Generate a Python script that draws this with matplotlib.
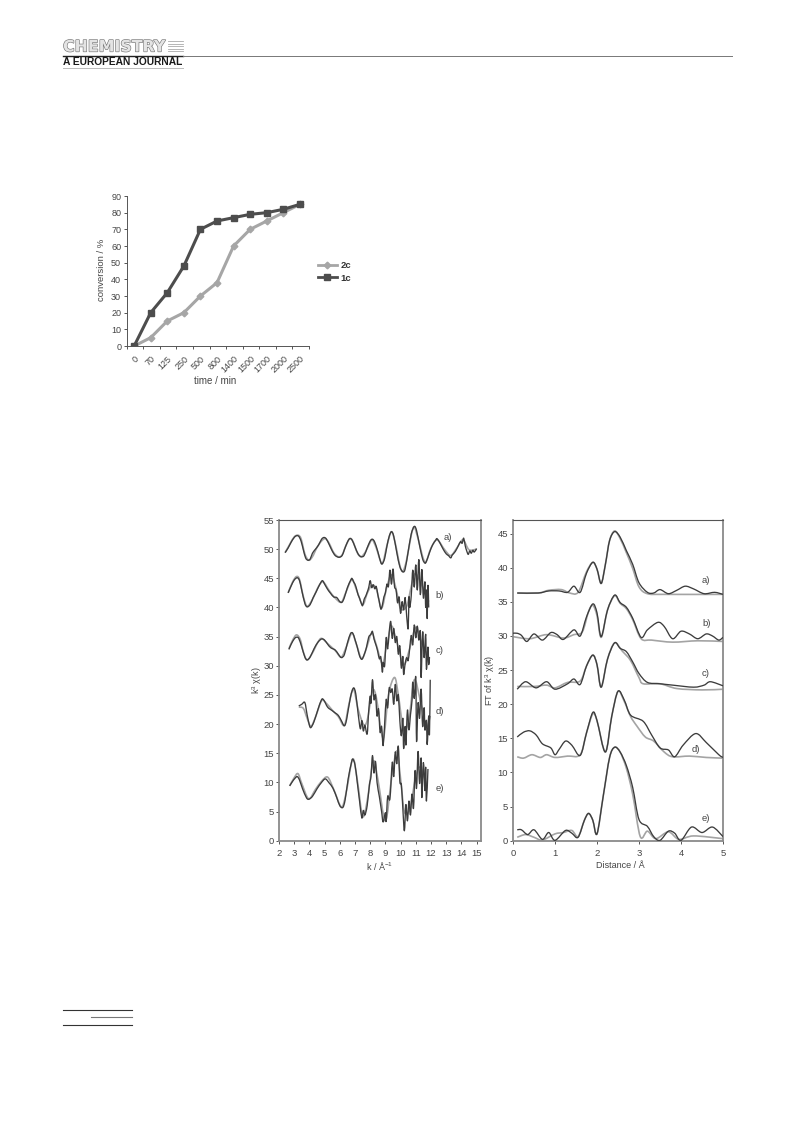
import matplotlib
matplotlib.use("Agg")
import matplotlib.pyplot as plt
import matplotlib.patheffects as pe
from matplotlib.lines import Line2D
from matplotlib.path import Path
from matplotlib.patches import PathPatch
from matplotlib.transforms import ScaledTranslation

plt.rcParams['font.family'] = ['Liberation Sans', 'DejaVu Sans']
plt.rcParams['mathtext.fontset'] = 'custom'
plt.rcParams['mathtext.rm'] = 'Liberation Sans'
plt.rcParams['mathtext.default'] = 'rm'

W, H = 793, 1123
times = ['0', '70', '125', '250', '500', '800', '1400', '1500', '1700', '2000', '2500']
conv_2c = [0, 5, 15, 20, 30, 38, 60, 70, 75, 80, 85]
conv_1c = [0, 20, 32, 48, 70, 75, 77, 79, 80, 82, 85]

exp_a = [(2.4,49.4),(2.6,50.2),(2.8,51.2),(3.0,52.0),(3.15,52.3),(3.3,52.2),(3.45,51.4),(3.6,49.9),(3.75,48.5),(3.9,48.1),(4.05,48.3),(4.2,49.3),(4.4,50.0),(4.6,50.7),(4.8,51.7),(4.95,52.0),(5.1,51.8),(5.3,50.8),(5.5,49.7),(5.7,48.9),(5.95,48.6),(6.15,48.9),(6.3,49.9),(6.5,51.2),(6.65,51.8),(6.8,51.6),(7.0,50.4),(7.2,49.2),(7.4,48.7),(7.6,48.9),(7.8,50.2),(8.0,51.4),(8.15,51.7),(8.3,51.2),(8.5,49.6),(8.7,47.7),(8.8,47.5),(8.95,48.4),(9.1,50.5),(9.25,52.2),(9.4,53.0),(9.55,52.2),(9.75,49.4),(9.95,47.0),(10.15,46.1),(10.3,46.6),(10.5,49.6),(10.7,52.6),(10.9,53.9),(11.05,53.2),(11.25,50.6),(11.45,48.3),(11.6,47.6),(11.7,47.9),(11.9,49.4),(12.1,50.7),(12.3,51.5),(12.4,51.8),(12.6,51.0),(12.8,50.0),(13.0,49.2),(13.15,48.9),(13.3,48.5),(13.4,49.0),(13.6,49.6),(13.8,50.6),(13.95,51.3),(14.05,51.0),(14.15,51.9),(14.25,50.6),(14.35,49.7),(14.45,49.1),(14.55,49.7),(14.65,49.3),(14.75,49.8),(14.85,49.5),(15.0,50.1)]
fit_a = [(2.4,49.4),(2.7,50.8),(3.0,52.1),(3.25,52.4),(3.45,51.8),(3.7,49.2),(3.95,48.1),(4.2,48.7),(4.5,50.3),(4.8,51.4),(5.05,51.8),(5.3,51.0),(5.6,49.4),(5.9,48.7),(6.15,49.0),(6.4,50.6),(6.65,51.8),(6.85,51.4),(7.15,49.4),(7.4,48.7),(7.7,49.6),(8.0,51.2),(8.15,51.6),(8.4,50.2),(8.7,47.8),(8.85,47.8),(9.1,50.6),(9.4,53.0),(9.65,51.0),(9.95,47.2),(10.15,46.2),(10.4,48.2),(10.7,52.4),(10.9,53.8),(11.15,51.8),(11.6,47.8),(12.0,50.2),(12.4,51.6),(12.9,49.9),(13.3,48.9),(13.7,50.2),(14.1,51.6),(14.5,49.9),(15.0,50.0)]

exp_b = [(2.6,42.5),(2.8,43.7),(3.0,44.7),(3.2,45.1),(3.35,44.6),(3.5,42.9),(3.7,40.7),(3.85,40.1),(4.05,40.5),(4.25,41.7),(4.45,42.7),(4.65,43.8),(4.85,44.6),(5.0,44.0),(5.2,43.1),(5.4,42.4),(5.6,41.8),(5.8,41.7),(6.0,41.0),(6.15,40.9),(6.3,41.7),(6.5,43.4),(6.7,44.6),(6.8,45.0),(6.9,44.4),(7.0,44.0),(7.1,43.2),(7.2,42.2),(7.3,41.6),(7.4,40.8),(7.5,40.3),(7.6,41.4),(7.7,41.9),(7.8,42.6),(7.9,43.4),(8.0,44.6),(8.1,43.4),(8.2,43.9),(8.3,43.2),(8.4,43.6),(8.5,42.2),(8.6,41.0),(8.7,39.7),(8.8,40.4),(8.9,41.8),(9.0,42.5),(9.1,44.0),(9.2,43.6),(9.3,46.4),(9.4,44.0),(9.5,46.6),(9.6,43.6),(9.7,43.0),(9.8,40.8),(9.9,41.8),(10.0,39.0),(10.1,41.0),(10.2,39.6),(10.3,41.7),(10.4,38.5),(10.5,36.4),(10.55,41.8),(10.6,40.0),(10.7,42.0),(10.8,46.4),(10.9,43.5),(11.0,47.3),(11.1,43.0),(11.2,48.2),(11.3,42.2),(11.4,46.5),(11.5,41.6),(11.6,44.4),(11.65,40.0),(11.7,43.0),(11.75,38.1),(11.8,43.8),(11.85,40.0)]
fit_b = [(2.6,42.5),(2.9,44.4),(3.15,45.3),(3.35,44.8),(3.6,41.9),(3.85,40.2),(4.2,41.4),(4.6,43.6),(4.9,44.4),(5.3,42.9),(5.7,41.6),(6.1,40.9),(6.4,42.6),(6.8,44.8),(7.1,43.0),(7.5,40.5),(7.8,42.4),(8.1,43.8),(8.4,43.2),(8.75,39.9),(9.1,43.6),(9.4,45.6),(9.7,43.2),(10.0,39.8),(10.4,40.2),(10.7,43.6),(10.95,45.8),(11.3,44.4),(11.85,41.0)]

exp_c = [(2.65,32.8),(2.8,33.7),(3.0,34.6),(3.15,34.9),(3.3,34.7),(3.5,33.2),(3.7,31.5),(3.85,31.0),(4.05,31.5),(4.3,32.9),(4.55,34.0),(4.8,34.6),(5.0,34.4),(5.2,33.7),(5.4,33.1),(5.7,32.7),(5.9,32.0),(6.1,31.4),(6.3,31.9),(6.5,33.9),(6.7,35.5),(6.85,35.6),(7.0,34.5),(7.15,33.2),(7.3,31.7),(7.45,31.1),(7.6,31.9),(7.75,33.1),(7.9,34.9),(8.05,35.4),(8.15,35.9),(8.25,34.6),(8.4,33.4),(8.5,32.4),(8.6,31.2),(8.7,31.5),(8.8,28.9),(8.85,30.6),(8.95,30.0),(9.05,34.8),(9.15,32.9),(9.25,35.8),(9.35,37.6),(9.45,34.7),(9.55,36.4),(9.65,34.0),(9.75,35.0),(9.85,32.0),(9.95,33.4),(10.05,29.6),(10.15,31.6),(10.2,28.5),(10.3,30.4),(10.4,31.4),(10.5,30.9),(10.6,33.0),(10.7,35.2),(10.8,33.6),(10.9,37.0),(11.0,34.8),(11.1,36.8),(11.2,34.4),(11.3,35.8),(11.35,28.0),(11.45,35.8),(11.55,31.4),(11.65,35.4),(11.7,29.4),(11.8,33.2),(11.85,30.2),(11.9,31.5)]
fit_c = [(2.65,32.9),(2.9,34.4),(3.15,35.3),(3.4,34.5),(3.6,32.4),(3.85,31.0),(4.2,32.2),(4.55,34.0),(4.8,34.7),(5.2,33.8),(5.7,32.6),(6.1,31.5),(6.45,33.4),(6.8,35.6),(7.1,33.6),(7.45,31.2),(7.8,33.4),(8.1,35.6),(8.4,33.6),(8.8,30.4),(9.1,33.6),(9.4,36.8),(9.7,34.6),(10.2,30.2),(10.6,33.0),(11.0,36.6),(11.4,33.8),(11.9,31.2)]

exp_d = [(3.3,23.1),(3.5,23.4),(3.7,23.7),(3.85,21.6),(4.0,19.8),(4.1,19.4),(4.3,20.4),(4.55,22.4),(4.8,24.2),(4.95,24.1),(5.2,22.9),(5.5,22.3),(5.7,21.9),(5.9,21.5),(6.1,20.6),(6.3,19.7),(6.45,20.8),(6.7,24.6),(6.9,26.2),(7.05,25.2),(7.2,21.9),(7.35,19.2),(7.45,20.6),(7.55,18.8),(7.65,19.8),(7.8,18.3),(7.9,22.2),(8.0,24.8),(8.05,23.6),(8.15,27.6),(8.25,24.2),(8.35,25.0),(8.45,21.4),(8.55,22.6),(8.65,18.6),(8.75,19.6),(8.85,16.3),(8.95,20.0),(9.05,24.2),(9.15,22.8),(9.25,26.2),(9.35,25.4),(9.45,26.0),(9.55,23.4),(9.65,26.8),(9.75,24.0),(9.85,25.0),(9.95,20.6),(10.05,18.0),(10.15,21.0),(10.2,15.8),(10.3,19.6),(10.35,16.4),(10.45,22.4),(10.55,19.0),(10.65,21.6),(10.75,24.0),(10.8,27.2),(10.9,24.4),(11.0,28.0),(11.05,17.0),(11.15,23.6),(11.25,21.0),(11.35,26.0),(11.45,19.6),(11.55,22.8),(11.6,19.0),(11.7,20.6),(11.75,16.5),(11.85,21.4),(11.9,18.2),(11.95,27.6)]
fit_d = [(3.3,22.9),(3.6,22.7),(3.85,21.0),(4.1,19.6),(4.4,21.2),(4.8,24.0),(5.1,23.6),(5.5,22.4),(5.9,21.3),(6.3,19.8),(6.6,23.4),(6.9,26.0),(7.2,22.6),(7.55,20.0),(7.8,20.6),(8.15,25.6),(8.4,24.6),(8.85,17.6),(9.2,25.0),(9.6,28.0),(9.85,25.0),(10.2,19.0),(10.55,20.8),(10.9,27.6),(11.3,24.0),(11.7,19.6),(11.95,21.4)]

exp_e = [(2.7,9.4),(2.9,10.2),(3.05,10.7),(3.2,11.0),(3.35,10.4),(3.55,8.9),(3.8,7.4),(3.95,7.1),(4.2,7.6),(4.5,8.9),(4.8,10.0),(5.05,10.6),(5.3,9.9),(5.55,9.0),(5.8,7.4),(6.0,6.0),(6.2,5.7),(6.35,7.0),(6.55,10.6),(6.75,13.2),(6.85,14.0),(7.0,13.0),(7.15,10.0),(7.3,6.8),(7.45,3.9),(7.55,5.2),(7.65,4.4),(7.8,6.0),(7.95,9.6),(8.05,11.0),(8.15,14.6),(8.25,11.6),(8.35,13.6),(8.45,10.0),(8.6,7.6),(8.75,5.0),(8.85,3.2),(9.0,4.8),(9.05,3.3),(9.15,7.6),(9.3,7.2),(9.45,13.4),(9.55,11.0),(9.65,15.2),(9.75,13.2),(9.85,16.2),(9.95,10.2),(10.05,9.6),(10.15,5.4),(10.25,1.7),(10.35,6.2),(10.45,3.4),(10.55,6.8),(10.65,4.4),(10.75,8.0),(10.85,5.6),(10.95,12.0),(11.05,9.0),(11.15,15.3),(11.25,9.8),(11.35,14.2),(11.4,7.4),(11.5,13.4),(11.6,8.6),(11.65,12.6),(11.7,6.8),(11.8,12.3)]
fit_e = [(2.7,9.4),(3.0,10.8),(3.25,11.5),(3.5,9.8),(3.95,7.2),(4.4,8.8),(4.8,10.2),(5.2,10.9),(5.6,8.8),(6.1,5.8),(6.4,8.0),(6.85,14.0),(7.15,10.4),(7.5,4.2),(7.8,6.8),(8.2,13.6),(8.5,10.6),(9.0,3.4),(9.4,10.6),(9.75,15.4),(10.0,10.6),(10.25,5.0),(10.6,5.4),(11.0,11.0),(11.3,12.6),(11.7,9.6)]

dist_a = [(0.1,36.3),(0.6,36.3),(0.85,36.6),(1.1,36.6),(1.3,36.4),(1.45,37.3),(1.6,36.4),(1.75,39.2),(1.9,40.8),(2.0,39.8),(2.1,37.7),(2.2,40.5),(2.3,44.0),(2.42,45.3),(2.55,44.5),(2.7,42.5),(2.85,40.5),(3.0,37.8),(3.2,36.4),(3.35,36.3),(3.5,36.8),(3.7,36.2),(3.9,36.7),(4.1,37.3),(4.3,36.9),(4.55,36.2),(4.8,36.4),(5.0,36.1)]
fit_dist_a = [(0.1,36.3),(0.6,36.3),(0.85,36.7),(1.15,36.8),(1.35,36.3),(1.55,36.4),(1.75,39.4),(1.9,40.8),(2.0,39.8),(2.1,37.7),(2.2,40.5),(2.3,44.0),(2.42,45.4),(2.55,44.3),(2.7,42.2),(2.85,39.9),(3.0,37.2),(3.2,36.2),(3.6,36.1),(5.0,36.1)]
dist_b = [(0.0,30.4),(0.1,30.4),(0.2,30.1),(0.33,29.2),(0.5,30.3),(0.7,29.4),(0.9,30.5),(1.05,30.2),(1.2,29.5),(1.45,30.9),(1.6,30.0),(1.75,32.8),(1.9,34.7),(2.0,33.4),(2.1,29.9),(2.25,33.8),(2.42,36.0),(2.55,34.9),(2.7,34.2),(2.85,32.6),(3.05,29.8),(3.2,30.9),(3.45,32.0),(3.6,31.4),(3.8,29.6),(4.0,30.7),(4.2,30.3),(4.4,29.6),(4.6,30.3),(4.75,30.0),(4.9,29.4),(5.0,29.8)]
fit_dist_b = [(0.0,29.9),(0.4,29.6),(0.8,30.2),(1.2,29.7),(1.45,30.2),(1.65,30.6),(1.8,33.6),(1.9,34.5),(2.0,33.0),(2.1,29.8),(2.25,33.8),(2.42,35.9),(2.55,34.8),(2.7,34.0),(2.85,32.4),(3.05,29.6),(3.3,29.4),(3.8,29.1),(4.4,29.3),(5.0,29.2)]
dist_c = [(0.1,22.2),(0.3,23.3),(0.55,22.4),(0.8,23.3),(1.0,22.2),(1.3,23.0),(1.45,23.7),(1.6,22.9),(1.75,25.6),(1.9,27.2),(2.0,25.8),(2.1,22.5),(2.25,26.6),(2.42,29.0),(2.55,28.2),(2.7,27.7),(2.85,26.2),(3.0,24.5),(3.2,23.2),(3.5,23.0),(3.8,22.8),(4.3,22.5),(4.55,22.8),(4.7,23.3),(5.0,22.7)]
fit_dist_c = [(0.1,22.6),(0.5,22.6),(0.8,22.8),(1.0,22.4),(1.3,23.2),(1.6,23.4),(1.75,25.6),(1.9,27.2),(2.0,25.8),(2.1,22.5),(2.25,26.6),(2.42,29.0),(2.6,27.8),(2.8,26.4),(3.0,23.9),(3.1,23.0),(3.5,23.0),(3.9,22.3),(4.5,22.1),(5.0,22.2)]
dist_d = [(0.1,15.2),(0.25,15.9),(0.4,16.1),(0.55,15.5),(0.7,14.2),(0.9,13.6),(1.0,12.6),(1.1,13.4),(1.25,14.6),(1.4,14.0),(1.6,12.5),(1.75,15.8),(1.9,18.8),(2.0,17.6),(2.2,13.0),(2.35,18.2),(2.5,21.9),(2.65,20.6),(2.8,18.4),(3.1,17.5),(3.3,15.5),(3.5,13.6),(3.7,13.3),(3.85,12.3),(4.05,14.0),(4.35,15.7),(4.6,14.4),(4.9,12.6),(5.0,12.2)]
fit_dist_d = [(0.1,12.3),(0.25,12.1),(0.45,12.6),(0.65,12.2),(0.8,12.6),(1.0,12.2),(1.3,12.4),(1.6,12.6),(1.75,15.8),(1.9,18.6),(2.0,17.6),(2.2,13.0),(2.35,18.2),(2.5,21.9),(2.65,20.4),(2.8,18.2),(2.95,16.8),(3.15,15.2),(3.35,14.6),(3.6,13.0),(3.8,12.3),(4.2,12.4),(4.6,12.2),(5.0,12.1)]
dist_e = [(0.1,1.6),(0.2,1.6),(0.35,0.9),(0.5,1.6),(0.7,0.2),(0.85,1.2),(1.0,0.05),(1.25,1.5),(1.4,1.1),(1.55,0.5),(1.7,3.0),(1.8,4.0),(1.9,3.0),(2.0,1.0),(2.15,6.6),(2.3,12.2),(2.42,13.7),(2.55,13.0),(2.7,11.0),(2.85,7.8),(3.0,3.1),(3.2,2.1),(3.35,0.6),(3.5,0.05),(3.7,1.4),(3.85,1.1),(4.0,0.05),(4.25,2.0),(4.5,1.2),(4.75,2.0),(5.0,0.6)]
fit_dist_e = [(0.1,0.5),(0.3,0.9),(0.5,0.5),(0.7,0.1),(1.0,1.0),(1.2,1.2),(1.4,1.5),(1.55,0.6),(1.7,3.0),(1.8,4.0),(1.9,3.0),(2.0,1.0),(2.15,6.6),(2.3,12.2),(2.42,13.7),(2.55,13.0),(2.7,10.6),(2.85,6.8),(3.03,0.6),(3.2,1.4),(3.4,0.3),(3.7,1.3),(3.95,0.2),(4.3,0.7),(5.0,0.3)]

series_left = [exp_a, fit_a, exp_b, fit_b, exp_c, fit_c, exp_d, fit_d, exp_e, fit_e]
series_right = [dist_a, fit_dist_a, dist_b, fit_dist_b, dist_c, fit_dist_c, dist_d, fit_dist_d, dist_e, fit_dist_e]
panel_labels = ['a)', 'b)', 'c)', 'd)', 'e)']
left_label_k = [12.8, 12.3, 12.3, 12.3, 12.3]
left_label_y = [52.0, 42.1, 32.6, 22.1, 9.0]
right_label_r = [4.5, 4.5, 4.5, 4.26, 4.5]
right_label_y = [38.1, 31.8, 24.5, 13.4, 3.2]


def box(x0, y0, x1, y1):
    return [x0 / W, 1 - y1 / H, (x1 - x0) / W, (y1 - y0) / H]


fig = plt.figure(figsize=(W / 100, H / 100), dpi=100, facecolor='white')
TXT = '#444444'

# top chart
ax1 = fig.add_axes(box(126.7, 196, 309, 346))
ax1.plot(range(11), conv_2c, color='#a6a6a6', lw=2.2, marker='D', ms=3.4, label='2c')
ax1.plot(range(11), conv_1c, color='#4d4d4d', lw=2.2, marker='s', ms=4.8, label='1c')
ax1.set_xlim(-0.45, 10.55)
ax1.set_ylim(0, 90)
ax1.set_yticks(range(0, 91, 10))
ax1.set_xticks([i - 0.45 for i in range(12)])
ax1.set_xticklabels([])
ax1.set_xticks(range(11), minor=True)
ax1.set_xticklabels(times, minor=True, rotation=45, ha='right', rotation_mode='anchor', fontsize=6.5, color=TXT)
shift = ScaledTranslation(-4.5 / 100, 0, fig.dpi_scale_trans)
for lab in ax1.get_xticklabels(minor=True):
    lab.set_transform(lab.get_transform() + shift)
ax1.tick_params(axis='x', which='minor', length=0, pad=6)
ax1.tick_params(axis='x', which='major', length=2.5, width=0.7, color='#555555')
ax1.tick_params(axis='y', length=2.5, width=0.7, color='#555555', labelsize=6.5, labelcolor=TXT, pad=1.5)
for s in ('top', 'right'):
    ax1.spines[s].set_visible(False)
for s in ('left', 'bottom'):
    ax1.spines[s].set_color('#555555')
    ax1.spines[s].set_linewidth(0.7)
fig.text(215 / W, 1 - 380.5 / H, 'time / min', ha='center', va='center', fontsize=7, color=TXT)
fig.text(102 / W, 1 - 270 / H, 'conversion / %', ha='center', va='center', rotation=90, fontsize=6.8, color=TXT)
leg = ax1.legend(handles=[Line2D([], [], color='#a6a6a6', lw=2, marker='D', ms=3.4),
                          Line2D([], [], color='#4d4d4d', lw=2, marker='s', ms=4.8)],
                 labels=['2c', '1c'], loc='center left', bbox_to_anchor=(309.5 / W, 1 - 272 / H),
                 bbox_transform=fig.transFigure, frameon=False, handlelength=2.0, handletextpad=0.4,
                 labelspacing=0.35, prop={'size': 6.8, 'weight': 'bold'})
for t in leg.get_texts():
    t.set_color('#333333')


def smooth_path(pts, tension=0.16):
    """Bezier path through the read points, so that the curve passes through each of them."""
    verts = [pts[0]]
    codes = [Path.MOVETO]
    n = len(pts)
    for i in range(n - 1):
        p0 = pts[max(i - 1, 0)]
        p1 = pts[i]
        p2 = pts[i + 1]
        p3 = pts[min(i + 2, n - 1)]
        c1 = (p1[0] + (p2[0] - p0[0]) * tension, p1[1] + (p2[1] - p0[1]) * tension)
        c2 = (p2[0] - (p3[0] - p1[0]) * tension, p2[1] - (p3[1] - p1[1]) * tension)
        verts += [c1, c2, p2]
        codes += [Path.CURVE4, Path.CURVE4, Path.CURVE4]
    return Path(verts, codes)


def draw(ax, items):
    for i, pts in enumerate(items):
        if i % 2 == 0:
            color, lw, z = '#3c3c3c', 0.95, 3
        else:
            color, lw, z = '#a4a4a4', 1.2, 2
        ax.add_patch(PathPatch(smooth_path(pts), fill=False, edgecolor=color, lw=lw, zorder=z, joinstyle='round'))


def frame(ax):
    for s, c, w in (('left', '#8a8a8a', 1.3), ('bottom', '#8a8a8a', 1.3), ('right', '#8a8a8a', 1.3), ('top', '#555555', 0.8)):
        ax.spines[s].set_color(c)
        ax.spines[s].set_linewidth(w)
    ax.tick_params(length=2.5, width=0.7, color='#555555', labelsize=6.8, labelcolor=TXT)
    ax.tick_params(axis='x', pad=3.5)
    ax.tick_params(axis='y', pad=1)


# left EXAFS panel
ax2 = fig.add_axes(box(279, 520, 481, 840.7))
draw(ax2, series_left)
ax2.set_xlim(2, 15.29)
ax2.set_ylim(0, 55)
ax2.set_xticks(range(2, 16))
ax2.set_yticks(range(0, 56, 5))
frame(ax2)
for lab, xv, yv in zip(panel_labels, left_label_k, left_label_y):
    ax2.text(xv, yv, lab, fontsize=6.8, color=TXT, ha='left', va='center')
fig.text(380 / W, 1 - 866 / H, 'k / Å$^{-1}$', ha='center', va='center', fontsize=6.5, color=TXT)
fig.text(257 / W, 1 - 680 / H, 'k$^{3}$ χ(k)', ha='center', va='center', rotation=90, fontsize=6.5, color=TXT)

# right FT panel
ax3 = fig.add_axes(box(513, 520, 723, 840.7))
draw(ax3, series_right)
ax3.set_xlim(0, 5)
ax3.set_ylim(0, 47)
ax3.set_xticks(range(0, 6))
ax3.set_yticks(range(0, 46, 5))
frame(ax3)
for lab, xv, yv in zip(panel_labels, right_label_r, right_label_y):
    ax3.text(xv, yv, lab, fontsize=6.8, color=TXT, ha='left', va='center')
fig.text(620 / W, 1 - 866 / H, 'Distance / Å', ha='center', va='center', fontsize=6.5, color=TXT)
fig.text(490 / W, 1 - 680 / H, 'FT of k$^{3}$ χ(k)', ha='center', va='center', rotation=90, fontsize=6.5, color=TXT)


# page furniture
def rule(x0, x1, y, color='#333333', lw=0.8):
    fig.add_artist(Line2D([x0 / W, x1 / W], [1 - y / H, 1 - y / H], color=color, lw=lw))


fig.text(63 / W, 1 - 47 / H, 'CHEMISTRY', ha='left', va='center', fontsize=11.4, weight='bold', color='#e4e4e4',
         family=['DejaVu Sans'], path_effects=[pe.withStroke(linewidth=0.9, foreground='#777777')])
for yy in (41, 43.5, 46, 48.5, 51):
    rule(168, 183, yy, '#aaaaaa', 0.6)
rule(63, 183, 55.5, '#222222', 1.0)
rule(183, 732, 56, '#777777', 0.7)
fig.text(63 / W, 1 - 62 / H, 'A EUROPEAN JOURNAL', ha='left', va='center', fontsize=7.4, weight='bold', color='#1a1a1a')
rule(63, 183, 68, '#bbbbbb', 0.7)
rule(63, 132, 1010, '#333333', 0.8)
rule(91, 132, 1017, '#777777', 0.8)
rule(63, 132, 1025, '#333333', 0.8)

fig.savefig('out.png', dpi=100, facecolor='white')
